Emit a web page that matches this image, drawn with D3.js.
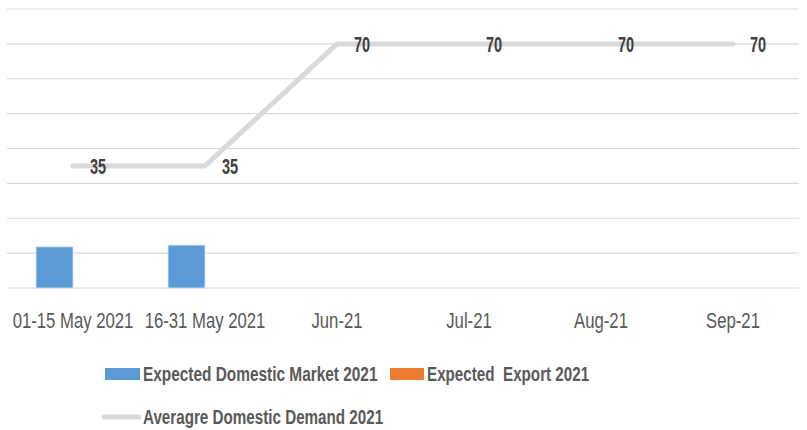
<!DOCTYPE html>
<html>
<head>
<meta charset="utf-8">
<script src="https://cdn.jsdelivr.net/npm/d3@7"></script>
<style>
  body { margin: 0; background: #fff; }
  svg { display: block; }
  text { font-family: "Liberation Sans", Arial, sans-serif; }
</style>
</head>
<body>
<div id="chart"></div>
<script>
// data
const categories = ["01-15 May 2021", "16-31 May 2021", "Jun-21", "Jul-21", "Aug-21", "Sep-21"];
const domesticMarket = [11.8, 12.3, null, null, null, null];
const exportValues = [null, null, null, null, null, null];
const avgDemand = [35, 35, 70, 70, 70, 70];
const yTicks = [0, 10, 20, 30, 40, 50, 60, 70, 80];

const width = 807, height = 430;
const plot = {left: 7, right: 799, top: 9, bottom: 288};

const svg = d3.select("#chart").append("svg")
    .attr("width", width)
    .attr("height", height);

// scales
const x0 = d3.scaleBand()
    .domain(categories)
    .range([plot.left, plot.right])
    .paddingInner(0.44)
    .paddingOuter(0.22);

const x1 = d3.scaleBand()
    .domain(["dom", "exp"])
    .range([0, x0.bandwidth()]);

const y = d3.scaleLinear()
    .domain([0, 80])
    .range([plot.bottom, plot.top]);

// condensed text helper (the source font is narrow)
function label(g, x, yy, txt, sx){
    return g.append("g")
        .attr("transform", `translate(${x},${yy}) scale(${sx},1)`)
        .append("text")
        .text(txt);
}

// gridlines
svg.append("g")
    .selectAll("line")
    .data(yTicks)
    .join("line")
    .attr("x1", plot.left)
    .attr("x2", plot.right)
    .attr("y1", d => y(d))
    .attr("y2", d => y(d))
    .attr("stroke", "#d9d9d9")
    .attr("stroke-width", 1.2);

// bars
const rows = categories.map((c, i) => ({cat: c, dom: domesticMarket[i], exp: exportValues[i]}));

svg.append("g")
    .selectAll("rect.dom")
    .data(rows.filter(d => d.dom != null))
    .join("rect")
    .attr("class", "dom")
    .attr("x", d => x0(d.cat) + x1("dom"))
    .attr("y", d => y(d.dom))
    .attr("width", x1.bandwidth())
    .attr("height", d => y(0) - y(d.dom))
    .attr("fill", "#5b9bd5")
    .attr("stroke", "#d6e4f2")
    .attr("stroke-width", 0.8);

svg.append("g")
    .selectAll("rect.exp")
    .data(rows.filter(d => d.exp != null))
    .join("rect")
    .attr("class", "exp")
    .attr("x", d => x0(d.cat) + x1("exp"))
    .attr("y", d => y(d.exp))
    .attr("width", x1.bandwidth())
    .attr("height", d => y(0) - y(d.exp))
    .attr("fill", "#ed7d31");

// demand line
const cx = c => x0(c) + x0.bandwidth() / 2;
const linePts = categories.map((c, i) => [cx(c), y(avgDemand[i])]);

svg.append("path")
    .datum(linePts)
    .attr("d", d3.line())
    .attr("fill", "none")
    .attr("stroke", "#d9d9d9")
    .attr("stroke-width", 5)
    .attr("stroke-linejoin", "round")
    .attr("stroke-linecap", "round");

// data labels
const dl = svg.append("g");
categories.forEach((c, i) => {
    label(dl, cx(c) + 17, y(avgDemand[i]) + 8, avgDemand[i], 0.66)
        .attr("font-size", 22)
        .attr("font-weight", "bold")
        .attr("fill", "#404040");
});

// category labels
const tl = svg.append("g");
categories.forEach(c => {
    label(tl, cx(c), 328, c, 0.76)
        .attr("font-size", 22)
        .attr("text-anchor", "middle")
        .attr("fill", "#595959");
});

// legend
const lg = svg.append("g");
lg.append("rect").attr("x", 105).attr("y", 368).attr("width", 35).attr("height", 12).attr("fill", "#5b9bd5");
label(lg, 143, 381, "Expected Domestic Market 2021", 0.79)
    .attr("font-size", 19.5).attr("font-weight", "bold").attr("fill", "#595959");

lg.append("rect").attr("x", 390).attr("y", 368).attr("width", 34).attr("height", 12).attr("fill", "#ed7d31");
label(lg, 427, 381, "Expected  Export 2021", 0.78)
    .attr("font-size", 19.5).attr("font-weight", "bold").attr("fill", "#595959")
    .style("white-space", "pre");

lg.append("line").attr("x1", 104).attr("x2", 139).attr("y1", 417).attr("y2", 417)
    .attr("stroke", "#d9d9d9").attr("stroke-width", 5).attr("stroke-linecap", "round");
label(lg, 143, 424, "Averagre Domestic Demand 2021", 0.78)
    .attr("font-size", 19.5).attr("font-weight", "bold").attr("fill", "#595959");
</script>
</body>
</html>
